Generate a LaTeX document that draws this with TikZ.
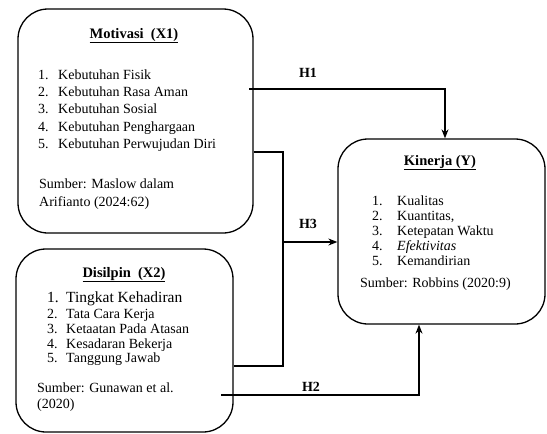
\documentclass[tikz,border=0pt]{standalone}
\usepackage{fontspec}
\setmainfont{Liberation Serif}
\usetikzlibrary{arrows.meta}
\tikzset{
  box/.style={draw, line width=1.3pt, rounded corners=30pt, inner sep=0pt},
  txt/.style={anchor=base west, inner sep=0pt, font=\fontsize{14pt}{16pt}\selectfont},
  ttl/.style={anchor=base, inner sep=0pt, font=\fontsize{14.5pt}{16pt}\selectfont\bfseries},
  hl/.style={anchor=base, inner sep=0pt, font=\fontsize{14pt}{16pt}\selectfont\bfseries},
  conn/.style={line width=1.2pt},
  arr/.style={conn, -{Stealth[length=9pt,width=7pt]}}
}
\begin{document}
\begin{tikzpicture}[x=1pt,y=-1pt]
\useasboundingbox (0,0) rectangle (547,434);
% boxes
\node[box, minimum width=235pt, minimum height=224pt] (mot) at (135.5,121) {};
\node[box, minimum width=217pt, minimum height=183pt] (dis) at (124.5,340.5) {};
\node[box, minimum width=207pt, minimum height=185pt] (kin) at (441.5,231.5) {};
% Motivasi text
\node[ttl] (motT) at (134,38) {\underline{Motivasi\ \ (X1)}};
\node[txt] (m1n) at (38,79) {1.}; \node[txt] (m1) at (58,79) {Kebutuhan Fisik};
\node[txt] (m2n) at (38,96) {2.}; \node[txt] (m2) at (58,96) {Kebutuhan Rasa Aman};
\node[txt] (m3n) at (38,113) {3.}; \node[txt] (m3) at (58,113) {Kebutuhan Sosial};
\node[txt] (m4n) at (38,131) {4.}; \node[txt] (m4) at (58,131) {Kebutuhan Penghargaan};
\node[txt] (m5n) at (38,148) {5.}; \node[txt] (m5) at (58,148) {Kebutuhan Perwujudan Diri};
\node[txt] (ms1) at (39,188) {Sumber: Maslow dalam};
\node[txt] (ms2) at (39,206) {Arifianto (2024:62)};
% Disiplin text
\node[ttl] (disT) at (124,277) {\underline{Disilpin\ \ (X2)}};
\node[txt] (d1n) at (47,302) {\fontsize{15.5pt}{17pt}\selectfont 1.}; \node[txt] (d1) at (66,302) {\fontsize{15.5pt}{17pt}\selectfont Tingkat Kehadiran};
\node[txt] (d2n) at (47,318) {2.}; \node[txt] (d2) at (66,318) {Tata Cara Kerja};
\node[txt] (d3n) at (47,333) {3.}; \node[txt] (d3) at (66,333) {Ketaatan Pada Atasan};
\node[txt] (d4n) at (47,348) {4.}; \node[txt] (d4) at (66,348) {Kesadaran Bekerja};
\node[txt] (d5n) at (47,362) {5.}; \node[txt] (d5) at (66,362) {Tanggung Jawab};
\node[txt] (ds1) at (37,392) {Sumber: Gunawan et al.};
\node[txt] (ds2) at (37,408) {(2020)};
% Kinerja text
\node[ttl] (kinT) at (440,165) {\underline{Kinerja (Y)}};
\node[txt] (k1n) at (372,205) {1.}; \node[txt] (k1) at (397,205) {Kualitas};
\node[txt] (k2n) at (372,220) {2.}; \node[txt] (k2) at (397,220) {Kuantitas,};
\node[txt] (k3n) at (372,235) {3.}; \node[txt] (k3) at (397,235) {Ketepatan Waktu};
\node[txt] (k4n) at (372,250) {4.}; \node[txt] (k4) at (397,250) {\itshape Efektivitas};
\node[txt] (k5n) at (372,265) {5.}; \node[txt] (k5) at (397,265) {Kemandirian};
\node[txt] (ks) at (360,287) {Sumber: Robbins (2020:9)};
% hypothesis labels
\node[hl] (h1) at (308,77) {H1};
\node[hl] (h3) at (308,228) {H3};
\node[hl] (h2) at (311,391) {H2};
% connectors
\coordinate (h1s) at (249,89);
\coordinate (h1c) at (445,89);
\draw[arr] (h1s) -- (h1c) -- (h1c |- kin.north);
\coordinate (j1) at (mot.east |- 0,152);
\coordinate (j2) at (283,152);
\coordinate (j3) at (283,366);
\draw[conn] (j1) -- (j2) -- (j3) -- (j3 -| dis.east);
\coordinate (h3s) at (283,242);
\draw[arr] (h3s) -- (h3s -| kin.west);
\coordinate (h2s) at (221,395);
\coordinate (h2c) at (419,395);
\draw[arr] (h2s) -- (h2c) -- (h2c |- kin.south);
\end{tikzpicture}
\end{document}
